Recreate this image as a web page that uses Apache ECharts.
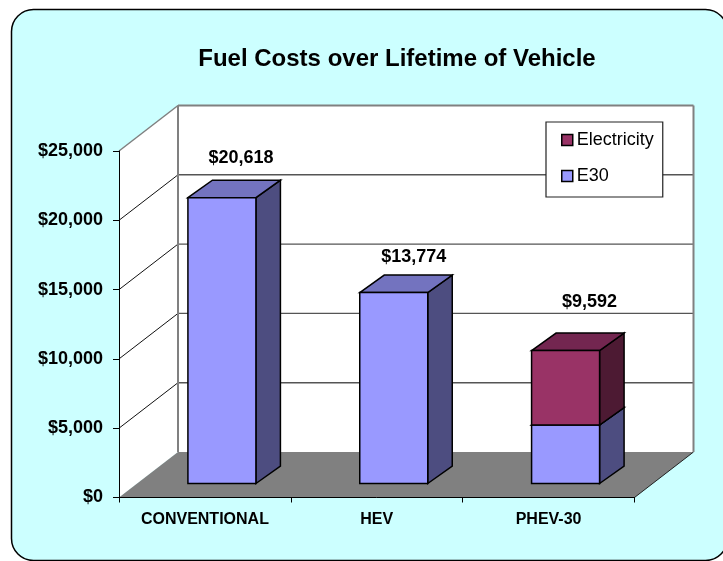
<!DOCTYPE html>
<html><head><meta charset="utf-8">
<style>html,body{margin:0;padding:0;background:#fff}#c{width:723px;height:561px}</style>
<script src="https://cdn.jsdelivr.net/npm/echarts@6/dist/echarts.min.js"></script>
</head><body><div id="c"></div>
<script>
const categories = ['CONVENTIONAL', 'HEV', 'PHEV-30'];
const e30 = [20618, 13774, 4220];
const electricity = [0, 0, 5372];
const totalLabels = ['$20,618', '$13,774', '$9,592'];
const yMax = 25000, yStep = 5000;
const yTicks = [0, 5000, 10000, 15000, 20000, 25000];

// layout constants (pixels)
const DEPTH_X = 59, DEPTH_Y = 45.5;
const BAR_W = 68, BAR_DX = 17, BAR_DY = 14, BAR_DEPTH_X = 24.5, BAR_DEPTH_Y = 17.5;
const LABEL_NUDGE = [[19, -40], [20, -36], [24, -49]];
const FONT = '"Liberation Sans", Arial, sans-serif';

function poly(points, fill, stroke, lw) {
  return { type: 'polygon', shape: { points }, style: { fill, stroke: stroke || null, lineWidth: lw || 0 } };
}
function line(x1, y1, x2, y2, stroke, lw) {
  return { type: 'line', shape: { x1, y1, x2, y2 }, style: { stroke, lineWidth: lw } };
}

function renderWalls(params, api) {
  const cs = params.coordSys;
  const L = cs.x, R = cs.x + cs.width, B = cs.y + cs.height, T = cs.y;
  const kids = [
    poly([[L, B], [L + DEPTH_X, B - DEPTH_Y], [L + DEPTH_X, T - DEPTH_Y], [L, T]], '#fff'),
    poly([[L + DEPTH_X, B - DEPTH_Y], [R + DEPTH_X, B - DEPTH_Y], [R + DEPTH_X, T - DEPTH_Y], [L + DEPTH_X, T - DEPTH_Y]], '#fff'),
    poly([[L, B], [L + DEPTH_X, B - DEPTH_Y], [R + DEPTH_X, B - DEPTH_Y], [R, B]], '#808080')
  ];
  yTicks.forEach(function (v) {
    const y = api.coord([0, v])[1];
    if (v === 0) {
      kids.push(line(R, y, R + DEPTH_X, y - DEPTH_Y, '#222', 1));
      return;
    }
    const top = v === yMax;
    kids.push(line(L, y, L + DEPTH_X, y - DEPTH_Y, top ? '#808080' : '#111', top ? 1.5 : 1));
    kids.push(line(L + DEPTH_X, y - DEPTH_Y, R + DEPTH_X, y - DEPTH_Y, top ? '#808080' : '#555', top ? 2 : 1.4));
  });
  kids.push(line(L + DEPTH_X, B - DEPTH_Y, L + DEPTH_X, T - DEPTH_Y, '#808080', 2));
  kids.push(line(R + DEPTH_X, B - DEPTH_Y, R + DEPTH_X, T - DEPTH_Y, '#808080', 2));
  return { type: 'group', children: kids };
}

function barRenderer(front, topFace, side) {
  return function (params, api) {
    const base = api.value(1), head = api.value(2);
    if (head <= base) return null;
    const c0 = api.coord([api.value(0), base]);
    const c1 = api.coord([api.value(0), head]);
    const x0 = c0[0] + BAR_DX - BAR_W / 2, x1 = x0 + BAR_W;
    const yb = c0[1] - BAR_DY, yt = c1[1] - BAR_DY;
    const dx = BAR_DEPTH_X, dy = BAR_DEPTH_Y;
    return { type: 'group', children: [
      poly([[x1, yb], [x1 + dx, yb - dy], [x1 + dx, yt - dy], [x1, yt]], side, '#000', 1.5),
      poly([[x0, yt], [x0 + dx, yt - dy], [x1 + dx, yt - dy], [x1, yt]], topFace, '#000', 1.5),
      poly([[x0, yb], [x1, yb], [x1, yt], [x0, yt]], front, '#000', 1.5)
    ] };
  };
}

function renderLabel(params, api) {
  const i = api.value(0);
  const c = api.coord([i, api.value(1)]);
  const n = LABEL_NUDGE[i];
  return { type: 'text', style: {
    x: c[0] + BAR_DX + n[0], y: c[1] - BAR_DY + n[1],
    text: totalLabels[i], align: 'center', verticalAlign: 'middle',
    font: 'bold 18px ' + FONT, fill: '#000'
  } };
}

const chart = echarts.init(document.getElementById('c'), null, { renderer: 'canvas' });
chart.setOption({
  animation: false,
  backgroundColor: '#fff',
  title: {
    text: 'Fuel Costs over Lifetime of Vehicle',
    left: 392, top: 42, textAlign: 'center',
    textStyle: { fontFamily: FONT, fontWeight: 'bold', fontSize: 24, color: '#000' }
  },
  legend: {
    left: 546, top: 122, orient: 'vertical', padding: [9, 9, 12, 15], itemGap: 18,
    itemWidth: 11, itemHeight: 11, itemStyle: { borderColor: '#000', borderWidth: 1.5 },
    backgroundColor: '#fff', borderColor: '#222', borderWidth: 1.2, z: 8,
    data: ['Electricity', 'E30'], icon: 'rect',
    textStyle: { fontFamily: FONT, fontSize: 18, color: '#000', padding: [0, 0, 0, -1] }
  },
  graphic: [{
    type: 'rect', z: -10, silent: true,
    shape: { x: 11.5, y: 9.5, width: 716, height: 551, r: 22 },
    style: { fill: '#CCFFFF', stroke: '#000', lineWidth: 1.5 }
  }],
  grid: { left: 119, top: 151, right: 88.5, bottom: 63.5 },
  xAxis: {
    type: 'category', data: categories, z: 6,
    axisLine: { lineStyle: { color: '#000', width: 1 } },
    axisTick: { show: true, length: 5, lineStyle: { color: '#000' } },
    axisLabel: { fontFamily: FONT, fontWeight: 'bold', fontSize: 16, color: '#000', margin: 14 }
  },
  yAxis: {
    type: 'value', min: 0, max: yMax, interval: yStep, z: 6,
    axisLine: { show: true, lineStyle: { color: '#000', width: 1 } },
    axisTick: { show: true, length: 6, lineStyle: { color: '#000' } },
    splitLine: { show: false },
    axisLabel: { fontFamily: FONT, fontWeight: 'bold', fontSize: 18, color: '#000', margin: 16,
      formatter: function (v) { return '$' + v.toLocaleString('en-US'); } }
  },
  series: [
    { type: 'custom', name: 'walls', z: 1, silent: true, renderItem: renderWalls, data: [[0]], encode: { x: 0, y: 0 } },
    { type: 'custom', name: 'E30', z: 3, renderItem: barRenderer('#9999FF', '#7373BF', '#4D4D80'),
      itemStyle: { color: '#9999FF' }, encode: { x: 0, y: [1, 2] },
      data: e30.map(function (v, i) { return [i, 0, v]; }) },
    { type: 'custom', name: 'Electricity', z: 3, renderItem: barRenderer('#993366', '#732650', '#4D1A33'),
      itemStyle: { color: '#993366' }, encode: { x: 0, y: [1, 2] },
      data: electricity.map(function (v, i) { return [i, e30[i], e30[i] + v]; }) },
    { type: 'custom', name: 'totals', z: 5, silent: true, renderItem: renderLabel, encode: { x: 0, y: 1 },
      data: e30.map(function (v, i) { return [i, v + electricity[i]]; }) }
  ]
});
</script></body></html>
